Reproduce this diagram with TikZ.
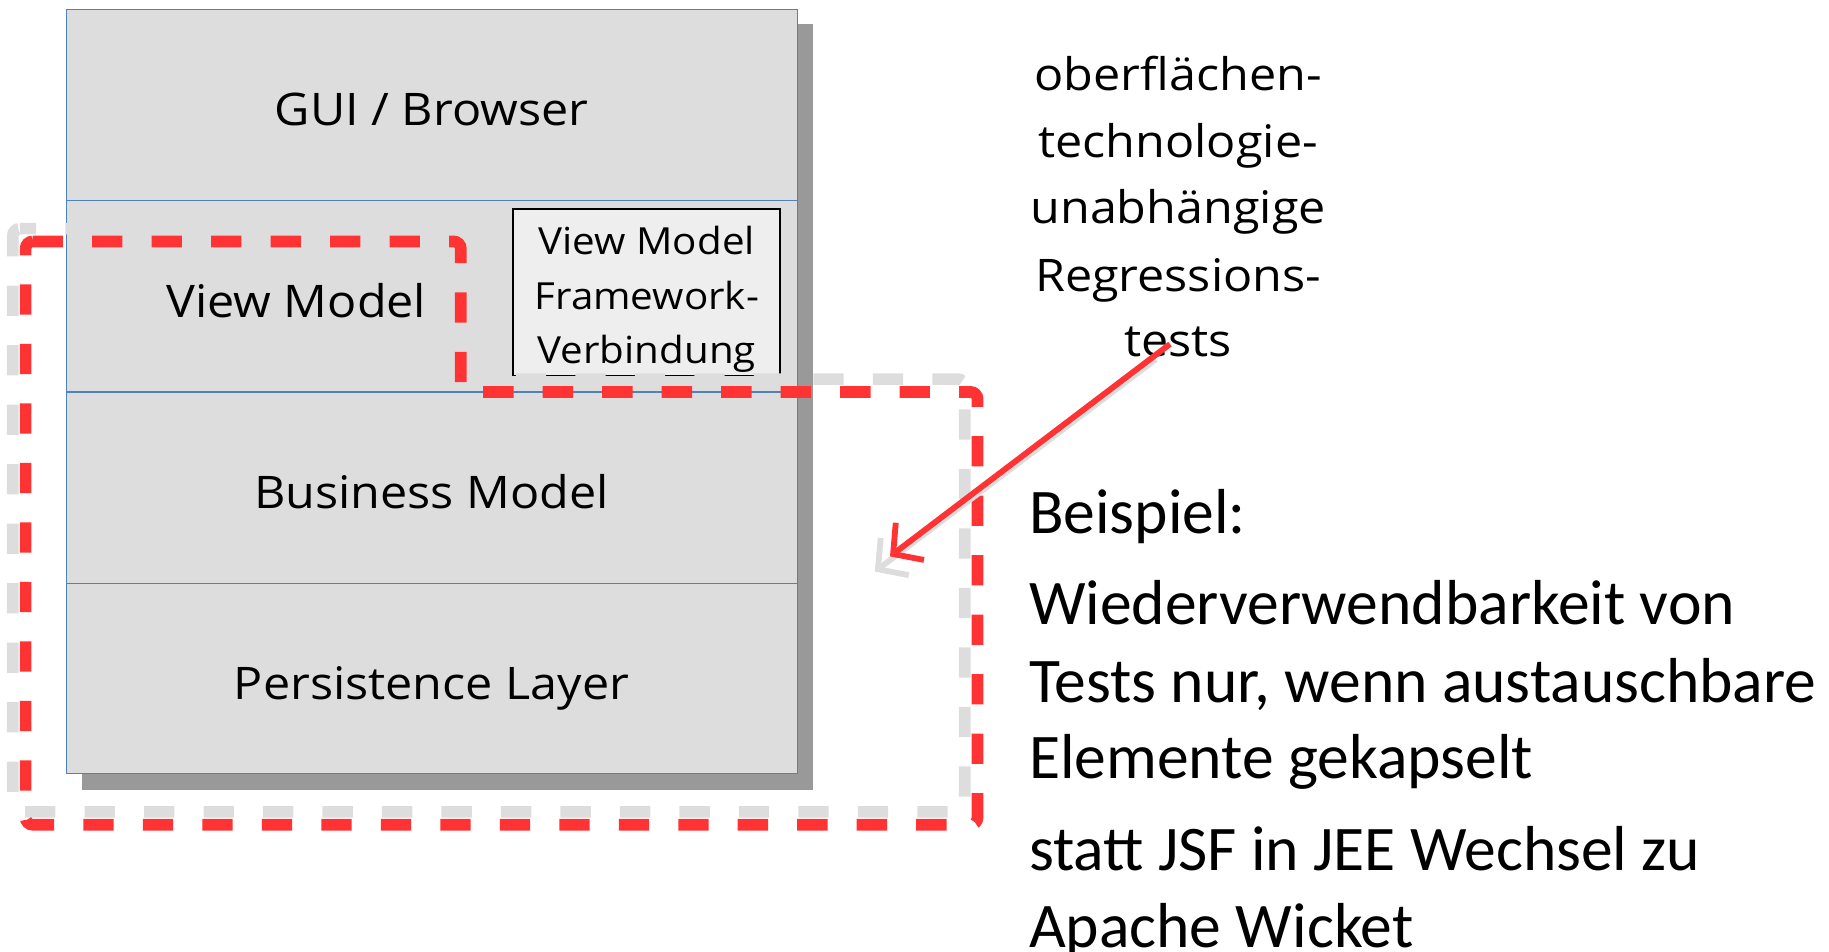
\documentclass[tikz,border=0pt]{standalone}
\usepackage{fontspec}
\setmainfont{Carlito}
\newfontfamily\handfont[FakeStretch=1.08]{Open Sans}
\usetikzlibrary{arrows.meta}

\definecolor{layerfill}{HTML}{DDDDDD}
\definecolor{layerline}{HTML}{4F81BD}
\definecolor{dropshadow}{HTML}{999999}
\definecolor{boxfill}{HTML}{EEEEEE}
\definecolor{markred}{HTML}{FF3333}
\definecolor{markgray}{HTML}{DDDDDD}

\tikzset{
  layer/.style={draw=layerline, line width=1pt, fill=layerfill,
    minimum width=627pt, minimum height=164pt, inner sep=0pt, outer sep=0pt},
  hand/.style={font=\handfont\fontsize{38.5}{46}\selectfont, inner sep=0pt, anchor=base},
  smallhand/.style={font=\handfont\fontsize{32}{40}\selectfont, inner sep=0pt, anchor=base},
  fwbox/.style={draw=black, line width=1.5pt, fill=boxfill,
    minimum width=229pt, minimum height=143pt, inner sep=0pt},
  marker/.style={line width=10pt, dash pattern=on 26pt off 25pt, rounded corners=6pt},
  body/.style={font=\fontsize{54.5}{66}\selectfont, inner sep=0pt, anchor=base west},
  pointer/.style={line width=5pt, -{Straight Barb[length=18pt, width=40pt, line width=5pt]}},
}

\begin{document}
\begin{tikzpicture}[x=1pt, y=-1pt]
\useasboundingbox (0,0) rectangle (1568,816);

% drop shadow behind the layer stack
\fill[dropshadow] (70,21) rectangle (697,677);

% layer stack
\node[layer] (gui) at (370.5,90) {};
\node[layer] (vm)  at (370.5,254) {};
\node[layer] (bm)  at (370.5,418) {};
\node[layer, minimum height=163pt] (pl) at (370.5,581.5) {};

\node[hand] (guitxt) at (370,108) {GUI / Browser};
\node[hand] (vmtxt)  at (254,272) {View Model};
\node[hand] (bmtxt)  at (370,436) {Business Model};
\node[hand] (pltxt)  at (370,600) {Persistence Layer};

% framework connection box
\node[fwbox] (fw) at (554.5,250.5) {};
\node[smallhand] (fw1) at (554.5,218) {View Model};
\node[smallhand] (fw2) at (554.5,265) {Framework-};
\node[smallhand] (fw3) at (554.5,312) {Verbindung};

% highlighted region: shadow, then red outline
\draw[marker, markgray, dash phase=12pt]
  (11,196) -- (384,196) -- (384,325) -- (827,325) -- (827,696) -- (11,696) -- cycle;
\draw[marker, markred]
  (22,207) -- (395,207) -- (395,336) -- (838,336) -- (838,707) -- (22,707) -- cycle;

% annotation text
\node[hand] (t1) at (1010,78)  {oberflächen-};
\node[hand] (t2) at (1010,135) {technologie-};
\node[hand] (t3) at (1010,192) {unabhängige};
\node[hand] (t4) at (1010,250) {Regressions-};
\node[hand] (t5) at (1010,306) {tests};

% pointer from the annotation into the highlighted region
\coordinate (tail) at (1003,295);
\coordinate (tip) at (763,477);
\coordinate (tailsh) at (991,308);
\coordinate (tipsh) at (750,490);
\draw[pointer, markgray] (tailsh) -- (tipsh);
\draw[pointer, markred] (tail) -- (tip);

% example text
\node[body] (b1) at (882,457) {Beispiel:};
\node[body] (b2) at (882,535) {Wiederverwendbarkeit von};
\node[body] (b3) at (882,602) {Tests nur, wenn austauschbare};
\node[body] (b4) at (882,667) {Elemente gekapselt};
\node[body] (b5) at (882,746) {statt JSF in JEE Wechsel zu};
\node[body] (b6) at (882,812) {Apache Wicket};
\end{tikzpicture}
\end{document}
